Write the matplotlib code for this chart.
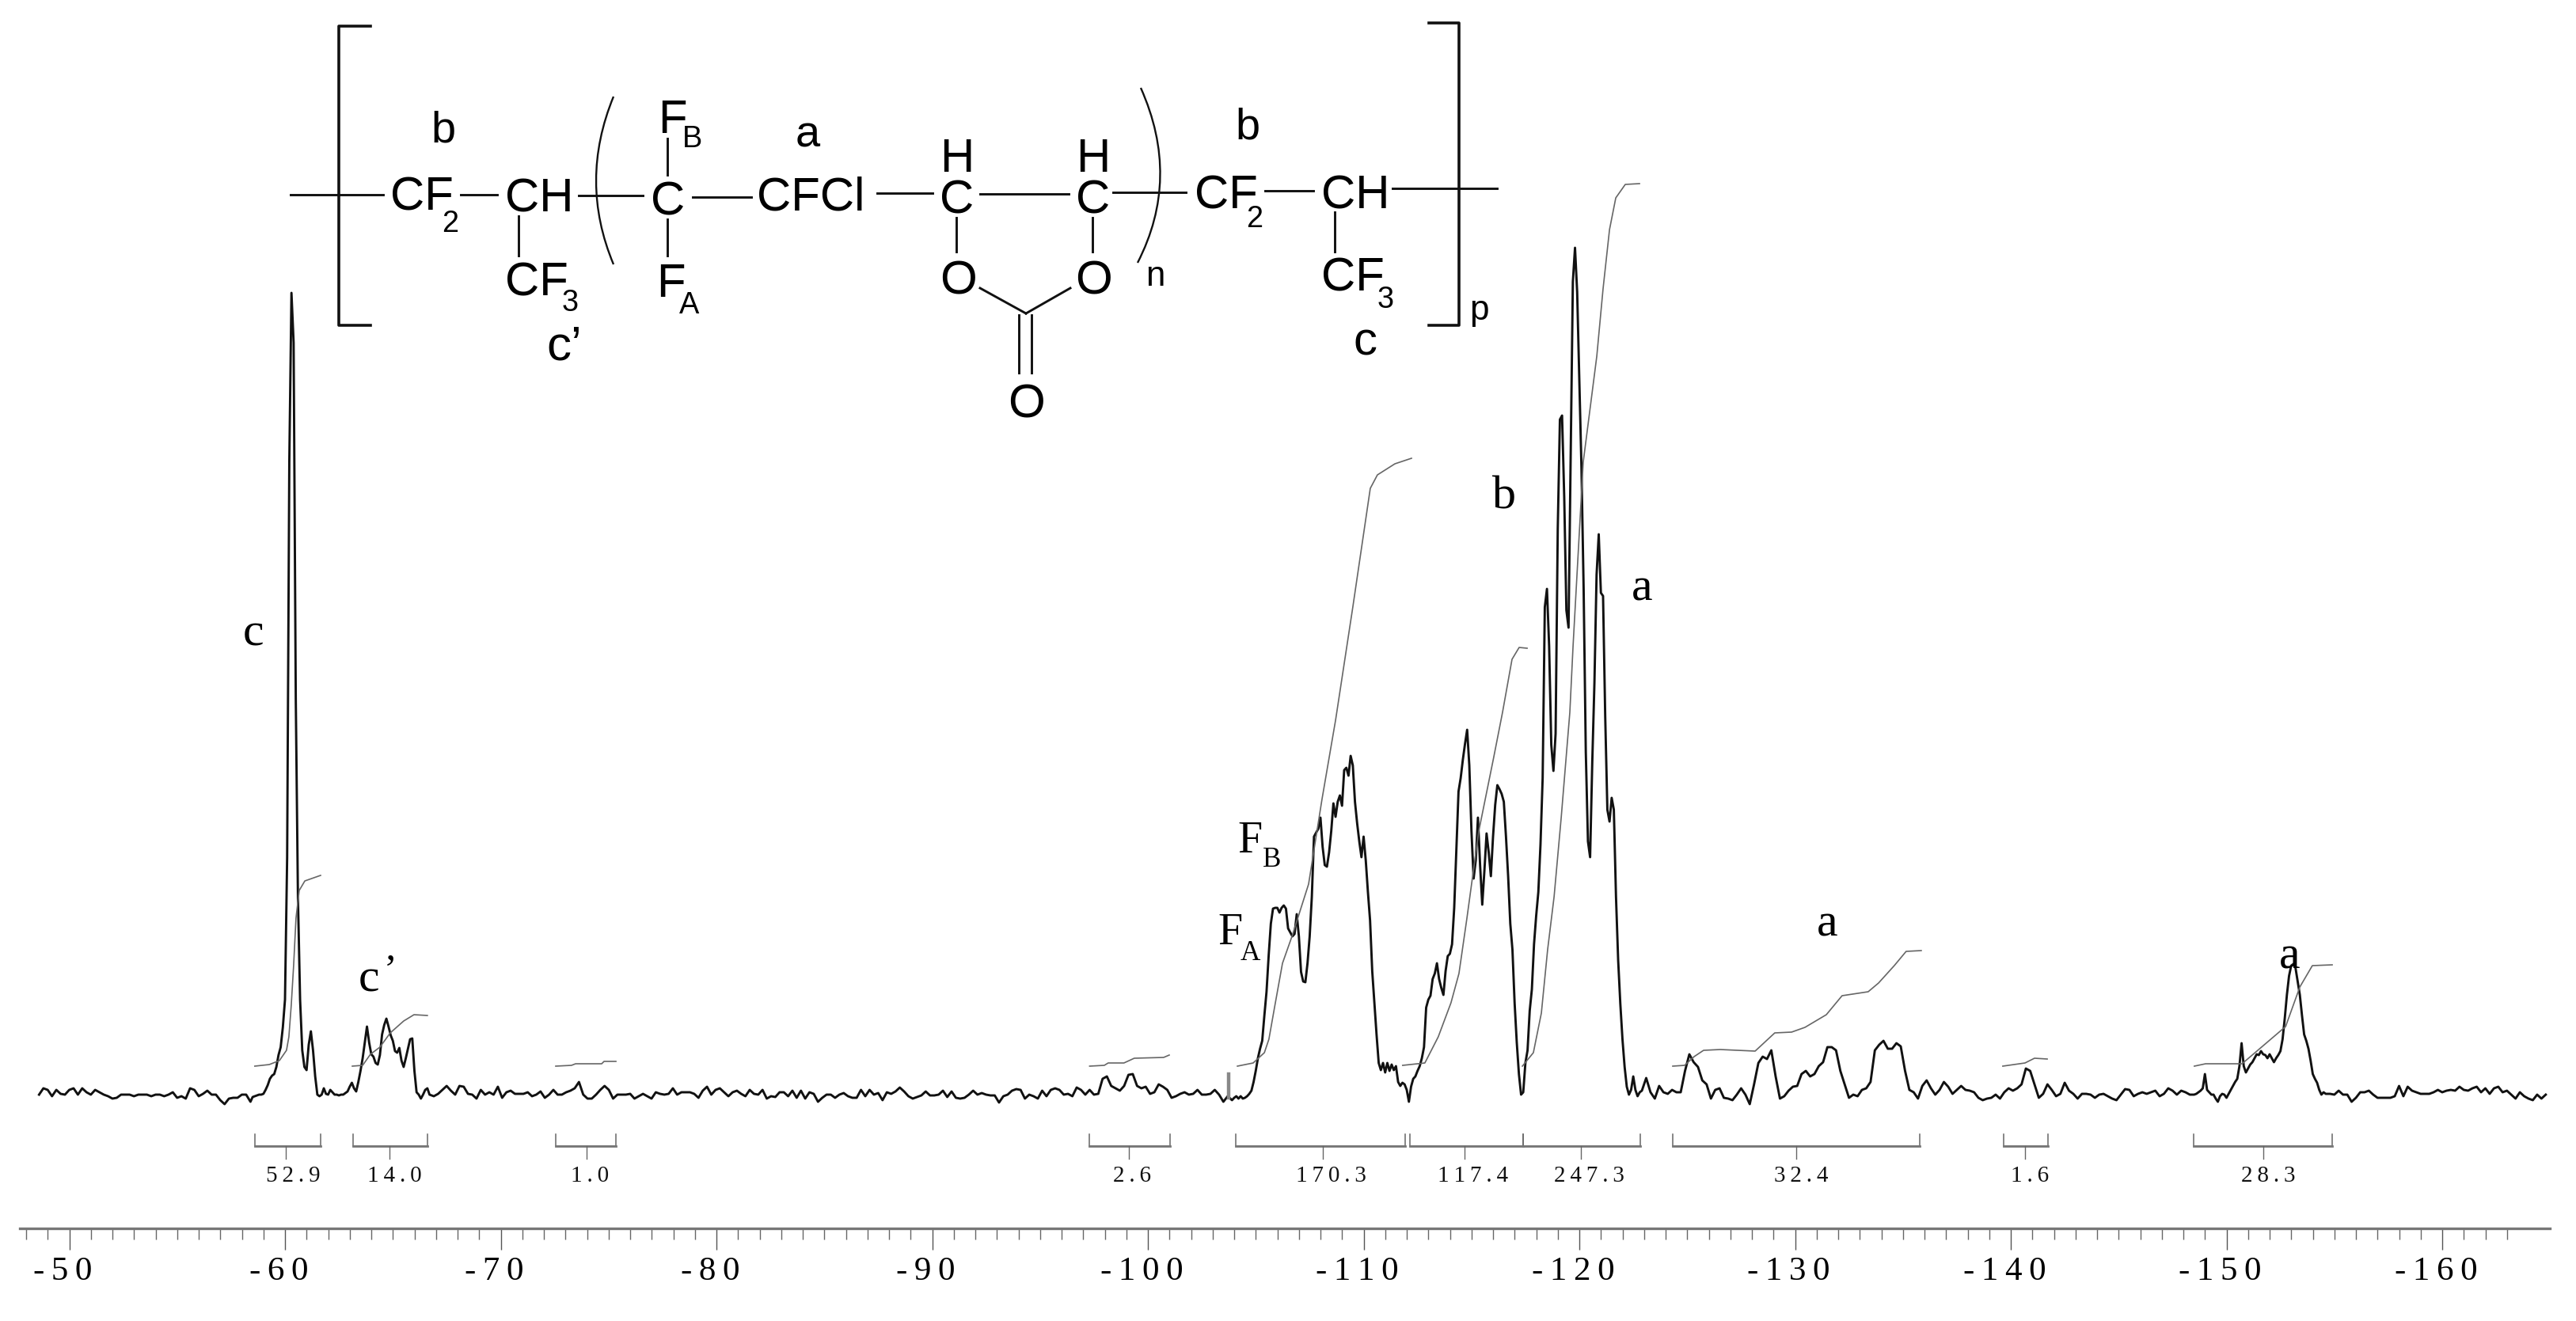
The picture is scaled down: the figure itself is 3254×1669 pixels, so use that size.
import numpy as np
import matplotlib
matplotlib.use('Agg')
import matplotlib.pyplot as plt
from matplotlib.patches import PathPatch
from matplotlib.path import Path
from matplotlib.ticker import FixedLocator
from matplotlib.transforms import ScaledTranslation

# spectrum traces (ppm range of each stretch, then heights)
range_1 = (-48.6, -58.2)
trace_1 = [0,8,6,-2,6,1,0,6,8,0,8,3,0,6,3,0,-2,-5,-4,0,0,0,-2,0,0,0,-2,0,0,-2,0,3,-4,-2,-5,8,6,-2,1,5,
           0,0,-7,-12,-5,-4,-4,0,0]
range_2 = (-58.4, -66.7)
trace_2 = [-9,-3,-2,-1,0,0,1,6,12,20,24,26,35,50,60,85,120,300,800,1013,950,500,250,120,56,35,31,63,80,56,
           23,0,-2,0,8,1,0,6,3,0,0,-1,0,0,2,4,10,15,8,4,16,30,46,66,86,66,51,48,40,38,
           50,76,88,96,86,75,68,55,53,59,43,35,46,58,70,71,30,3,0,-5,0,6,8,0]
range_3 = (-66.9, -85.5)
trace_3 = [-2,1,6,11,5,0,11,10,1,0,-5,6,0,3,0,10,-4,3,5,1,1,1,3,-2,0,4,-4,0,6,0,0,3,5,8,16,0,-5,-5,0,6,
           11,6,-5,0,0,0,1,-5,-2,1,-2,-5,3,1,0,1,8,0,3,3,3,1,-4,5,10,0,6,8,3,-2,3,5,1,-2,6,1,0,6,-5,-2,
           -3,3,3,-2,5,-4,5,-5,3,1,-9,-4,0,0,-4]
range_4 = (-85.7, -103.9)
trace_4 = [0,2,-2,-4,-4,6,-2,6,0,2,-7,3,1,4,9,4,-2,-5,-3,-1,4,-1,-1,0,5,-3,4,-4,-5,-4,0,5,0,2,0,-1,-1,-10,-2,0,
           5,7,6,-5,0,-2,-5,5,-2,6,8,6,0,1,-2,9,6,0,6,0,1,20,23,11,8,5,11,25,26,11,8,10,1,3,13,10,6,-4,-2,1,
           3,0,1,6,0,0,1,6,0,-9,-2,-7]
range_5 = (-104.0, -122.8)
trace_5 = [-4,-2,-5,-2,-5,-4,-2,1,5,16,30,46,58,68,100,130,176,216,235,236,236,230,236,239,235,210,205,200,203,228,
           200,155,143,142,166,200,250,326,331,336,350,313,290,288,306,333,368,351,370,378,365,410,413,403,428,416,370,343,320,300,
           326,296,256,220,156,116,76,40,31,40,28,40,30,38,31,36,16,11,15,13,6,-9,10,20,23,30,36,46,60,110,
           120,125,146,153,166,146,135,126,156,175,178,190,236,310,383,400,423,443,461,416,333,273,296,350,290,240,283,330,306,276,
           326,366,391,386,380,370,326,276,216,183,116,66,26,0,3,40,56,106,133,190,226,256,316,400,
           616,639,567,442,409,456,715,853,858,755,612,590,813,1027,1070,1014,902,791,639,433,320,300,420,520,657,708,634,630,478,360,
           345,375,360,250,170,115,70,35,10,0,6,23,6,-2,3]
range_6 = (-122.9, -140.7)
trace_6 = [5,21,3,-5,11,3,1,6,3,3,30,51,41,35,18,13,-5,6,8,-4,-5,-7,0,8,0,-12,13,40,48,45,56,23,-5,-2,5,10,11,26,30,23,
           26,36,41,60,60,56,30,13,-4,0,-2,6,8,16,56,63,68,58,58,65,61,30,6,3,-5,11,18,8,0,6,16,10,1,6,11,6,5,3,-4,-7,
           -5,-4,0,-5,3,8,5,8,13,33]
range_7 = (-140.9, -148.3)
trace_7 = [30,13,-4,1,13,6,-2,1,15,5,1,-5,1,1,0,-4,0,1,-2,-5,-7,0,7,6,-2,1,3,1,3,5,-2,1,8,5,0,5,3,0]
range_8 = (-148.5, -154.6)
trace_8 = [0,1,3,5,8,26,6,3,0,0,-5,-9,-2,1,0,-4,1,6,11,16,20,36,65,36,28,33,38,41,46,51,50,55,51,50,46,51,46,41,46,50,
           55,70,96,126,150,163,165,160,143,126,100,76,68,58,43,26,20,15,6,0,3,1]
range_9 = (-154.8, -164.8)
trace_9 = [1,0,5,0,0,-9,-4,3,3,5,0,-4,-4,-4,-4,-2,11,-2,10,5,3,1,1,1,3,6,3,5,6,5,10,6,5,8,10,3,8,1,8,10,
           3,5,0,-5,3,-2,-5,-7,0,-5,0]

# integral curves
int_ppm_1 = [-58.6,-59.27,-59.74,-60.07,-60.18,-60.29,-60.4,-60.51,-60.66,-60.92,-61.65]
int_val_1 = [36,38,43,56,73,113,163,223,258,270,277]
int_ppm_2 = [-63.12,-63.6,-63.96,-64.4,-64.88,-65.5,-65.98,-66.6]
int_val_2 = [36,37,51,60,78,93,101,100]
int_ppm_3 = [-72.55,-73.28,-73.47,-74.68,-74.79,-75.34]
int_val_3 = [36,37,39,39,42,42]
int_ppm_4 = [-97.3,-97.98,-98.16,-98.89,-99.37,-100.73,-100.99]
int_val_4 = [36,37,40,40,46,47,50]
int_ppm_5 = [-104.15,-104.88,-105.4,-105.61,-105.87,-106.24,-106.68,-107.45,-108.07,-108.7,-109.5,-110.31,-110.64,-111.45,-112.22]
int_val_5 = [36,40,53,70,110,166,200,266,373,473,616,766,783,797,804]
int_ppm_6 = [-111.81,-112.84,-113.46,-114.05,-114.42,-114.79,-115.34,-116.03,-116.44,-116.88,-117.21,-117.58]
int_val_6 = [37,40,73,116,153,223,333,426,483,550,565,564]
int_ppm_7 = [-117.36,-117.87,-118.24,-118.53,-118.83,-119.16,-119.56,-119.71,-120.18,-120.81,-121.1,-121.4,-121.69,-122.13,-122.79]
int_val_7 = [36,53,103,183,250,350,483,567,799,933,1018,1093,1133,1150,1151]
int_ppm_8 = [-124.33,-124.88,-125.32,-125.76,-126.53,-128.15,-129.06,-129.84,-130.46,-131.45,-132.18,-133.39,-133.87,-134.6,-135.15,-135.85]
int_val_8 = [36,37,48,56,57,55,78,79,85,101,125,130,141,163,181,182]
int_ppm_9 = [-139.63,-140.66,-141.1,-141.69]
int_val_9 = [36,40,46,45]
int_ppm_10 = [-148.51,-149.03,-150.72,-152.74,-153.4,-153.98,-154.9]
int_val_10 = [36,39,39,86,136,163,164]

# integration brackets
br_start = [-58.61,-63.16,-72.55,-97.28,-104.07,-112.15,-117.39,-124.33,-139.67,-148.47]
br_end = [-61.65,-66.61,-75.34,-101.03,-111.93,-117.39,-122.82,-135.78,-141.72,-154.9]
br_stem = [-60.04,-64.84,-73.98,-99.12,-108.11,-114.68,-120.07,-130.05,-140.66,-151.7]
br_text_pos = [-60.37,-65.06,-74.13,-99.27,-108.48,-115.05,-120.44,-130.27,-140.88,-151.92]
br_labels = ['52.9','14.0','1.0','2.6','170.3','117.4','247.3','32.4','1.6','28.3']

major_ticks = [-50,-60,-70,-80,-90,-100,-110,-120,-130,-140,-150,-160]
minor_ticks = list(range(-48,-164,-1))

THIN = '\u2009'
def spaced(s):
    return THIN.join(s)

fig = plt.figure(figsize=(32.55,16.69), dpi=100)
w, h = 3255., 1669.

# spectrum axes, bottom spine is the ppm scale
axis_py = 1552.
ax = fig.add_axes([0, (h-axis_py)/h, 1, axis_py/h])
ax.set_xlim(-50+87.5/27.25, -50-(w-87.5)/27.25)
ax.set_ylim(1383-axis_py, 1383)
ax.patch.set_alpha(0)
for s in ['top','left','right']:
    ax.spines[s].set_visible(False)
ax.spines['bottom'].set_color('#777777')
ax.spines['bottom'].set_linewidth(2.4)
ax.spines['bottom'].set_bounds(-47.7, -165.0)
ax.set_yticks([])
ax.set_xticks(major_ticks)
ax.set_xticklabels([('-'+THIN+spaced(str(-t))) for t in major_ticks], family='Liberation Serif', fontsize=31)
ax.xaxis.set_minor_locator(FixedLocator(minor_ticks))
ax.tick_params(axis='x', which='major', length=19.5, width=1.0, color='#555555', pad=6)
ax.tick_params(axis='x', which='minor', length=10, width=1.0, color='#666666')
shift = ScaledTranslation(-8/100., 0, fig.dpi_scale_trans)
for lab in ax.get_xticklabels():
    lab.set_transform(lab.get_transform()+shift)

ppm = np.concatenate([np.linspace(r[0], r[1], len(t)) for r, t in [(range_1,trace_1),(range_2,trace_2),(range_3,trace_3),
      (range_4,trace_4),(range_5,trace_5),(range_6,trace_6),(range_7,trace_7),(range_8,trace_8),(range_9,trace_9)]])
vals = np.concatenate([trace_1,trace_2,trace_3,trace_4,trace_5,trace_6,trace_7,trace_8,trace_9])
ax.plot(ppm, vals, color='#111111', lw=2.1, solid_joinstyle='round', clip_on=False)
ax.plot([-103.74,-103.74], [-4,26], color='#888888', lw=3.2)

for a, b in [(int_ppm_1,int_val_1),(int_ppm_2,int_val_2),(int_ppm_3,int_val_3),(int_ppm_4,int_val_4),(int_ppm_5,int_val_5),
             (int_ppm_6,int_val_6),(int_ppm_7,int_val_7),(int_ppm_8,int_val_8),(int_ppm_9,int_val_9),(int_ppm_10,int_val_10)]:
    ax.plot(a, b, color='#666666', lw=1.2)

for s, e, st, tp, lb in zip(br_start, br_end, br_stem, br_text_pos, br_labels):
    ax.plot([s,s,e,e], [-50,-65,-65,-50], color='#666666', lw=1.1)
    ax.plot([s,e], [-65,-65], color='#777777', lw=2.0)
    ax.plot([st,st], [-65,-81], color='#666666', lw=1.0)
    ax.text(tp, -103, spaced(lb), family='Liberation Serif', fontsize=21, ha='center', va='center', color='#111111')

# overlay in picture pixels for the structure and letters
ov = fig.add_axes([0,0,1,1])
ov.set_xlim(0,w)
ov.set_ylim(h,0)
ov.axis('off')

SANS = 'Liberation Sans'
SERIF = 'Liberation Serif'
def sans(x, y, s, px=60):
    ov.text(x, y, s, family=SANS, fontsize=px*0.72, ha='left', va='baseline', color='#000000')
def serif(x, y, s, px=56):
    ov.text(x, y, s, family=SERIF, fontsize=px*0.72, ha='left', va='baseline', color='#000000')

bonds = [(367,246,484,246),(582,246,628,246),(655,273,655,323),(731,247,812,247),(843,175,843,221),(843,277,843,323),
         (875,249,949,249),(1108,244,1178,244),(1238,245,1350,245),(1208,275,1208,318),(1380,275,1380,318),
         (1238,364,1296,396),(1352,364,1296,396),(1287,398,1287,471),(1303,398,1303,471),(1406,243,1498,243),
         (1598,241,1659,241),(1686,268,1686,318),(1759,238,1891,238)]
for x0, y0, x1, y1 in bonds:
    ov.plot([x0,x1], [y0,y1], color='#111111', lw=2.1)

ov.plot([468,428,428,468], [33,33,411,411], color='#111111', lw=2.6)
ov.plot([1805,1843,1843,1805], [29,29,411,411], color='#111111', lw=2.6)
for verts in ([(775,122),(731,229),(775,334)], [(1441,111),(1492,225),(1437,332)]):
    ov.add_patch(PathPatch(Path(verts,[Path.MOVETO,Path.CURVE3,Path.CURVE3]), fill=False, edgecolor='#111111', lw=1.7))

sans(493,266,'CF'); sans(558,293,'2',38)
sans(638,268,'CH')
sans(638,373,'CF'); sans(710,393,'3',38)
sans(690,454,"c\u2019",62)
sans(544,180,'b',56); sans(1005,186,'a',56); sans(1560,175,'b',56)
sans(822,271,'C')
sans(831,168,'F'); sans(862,186,'B',38)
sans(829,375,'F'); sans(858,396,'A',38)
sans(956,266,'CFCl')
sans(1187,270,'C'); sans(1187,217,'H')
sans(1359,270,'C'); sans(1359,217,'H')
sans(1187,371,'O'); sans(1358,371,'O'); sans(1273,527,'O')
sans(1447,361,'n',44)
sans(1509,264,'CF'); sans(1574,287,'2',38)
sans(1669,264,'CH')
sans(1669,368,'CF'); sans(1740,389,'3',38)
sans(1710,448,'c',60)
sans(1856,404,'p',44)

serif(307,815,'c',60)
serif(453,1252,'c',60); serif(485,1240,"\u2019",50)
serif(1885,642,'b',60)
serif(2061,758,'a',60)
serif(1563,1077,'F'); serif(1595,1095,'B',35)
serif(1538,1193,'F'); serif(1567,1213,'A',35)
serif(2295,1182,'a',60)
serif(2879,1223,'a',60)

plt.savefig('out.png', dpi=100)
